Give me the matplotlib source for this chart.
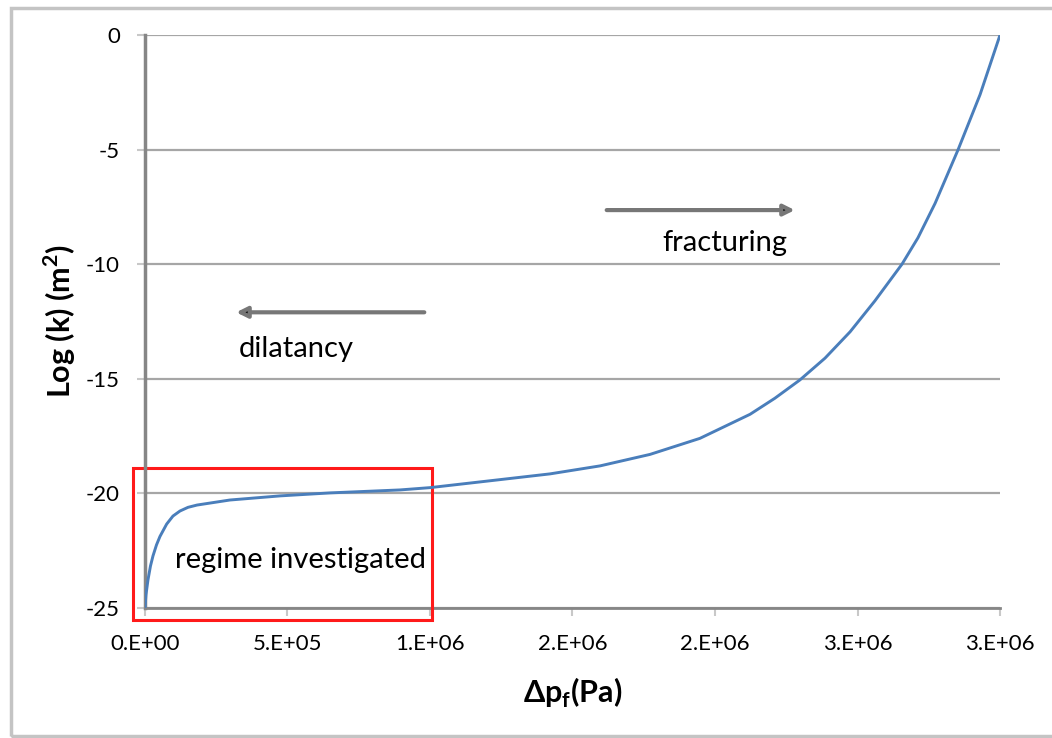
import matplotlib
matplotlib.use("Agg")
import matplotlib.pyplot as plt
from matplotlib.patches import Rectangle

plt.rcParams['font.family'] = ['Lato', 'DejaVu Sans']
plt.rcParams['mathtext.fontset'] = 'custom'
plt.rcParams['mathtext.rm'] = 'Lato'
plt.rcParams['mathtext.bf'] = 'Lato:bold'
plt.rcParams['axes.unicode_minus'] = False

# fluid overpressure (Pa) vs log permeability
dp = [0, 3.5e3, 1.05e4, 1.93e4, 2.81e4, 4.04e4, 5.26e4, 7.61e4, 9.82e4, 1.228e5,
      1.509e5, 1.825e5, 2.98e5, 4.74e5, 6.49e5, 8.95e5, 1.0e6, 1.246e6, 1.421e6,
      1.597e6, 1.772e6, 1.947e6, 2.123e6, 2.21e6, 2.298e6, 2.386e6, 2.474e6,
      2.561e6, 2.656e6, 2.712e6, 2.772e6, 2.853e6, 2.93e6, 3.0e6]
logk = [-25, -24.43, -23.78, -23.17, -22.73, -22.25, -21.88, -21.34, -20.99, -20.77,
        -20.61, -20.51, -20.29, -20.11, -19.98, -19.85, -19.75, -19.4, -19.15,
        -18.8, -18.3, -17.6, -16.55, -15.85, -15.05, -14.1, -12.95,
        -11.6, -10.0, -8.85, -7.35, -5.0, -2.6, 0]

xticks = [0, 5e5, 1e6, 1.5e6, 2e6, 2.5e6, 3e6]
xticklabels = ["0.E+00", "5.E+05", "1.E+06", "2.E+06", "2.E+06", "3.E+06", "3.E+06"]
yticks = [-25, -20, -15, -10, -5, 0]

fig = plt.figure(figsize=(10.52, 7.38), dpi=100)
ax = fig.add_axes([0.1378, 0.1762, 0.8128, 0.7764])

# outer frame
fig.patches.append(Rectangle((0.010, 0.003), 1.2, 0.986, transform=fig.transFigure,
                             fill=False, ec='#c4c4c4', lw=2.5))

ax.plot(dp, logk, color='#4a7ebb', lw=2.1, zorder=4)

ax.set_xlim(0, 3e6)
ax.set_ylim(-25, 0)
ax.set_xticks(xticks)
ax.set_xticklabels(xticklabels)
ax.set_yticks(yticks)

ax.grid(axis='y', color='#a6a6a6', lw=1.6)
ax.set_axisbelow(True)
for s in ('top', 'right'):
    ax.spines[s].set_visible(False)
ax.spines['left'].set_color('#868686')
ax.spines['left'].set_linewidth(2.5)
ax.spines['left'].set_zorder(3)
ax.spines['bottom'].set_color('#868686')
ax.spines['bottom'].set_linewidth(2.0)
ax.tick_params(axis='x', direction='out', length=6, width=1.5, color='#c8c8c8',
               pad=13, labelsize=16)
ax.tick_params(axis='y', direction='out', length=6, width=1.5, color='#c8c8c8',
               pad=12, labelsize=16)

ax.set_ylabel('Log (k) (m$^\\mathbf{2}$)', fontsize=22, fontweight='bold')
ax.set_xlabel('Δp$_\\mathbf{f}$(Pa)', fontsize=22, fontweight='bold')
ax.yaxis.set_label_coords(-0.078, 0.5)
ax.xaxis.set_label_coords(0.5, -0.119)

# studied window
ax.add_patch(Rectangle((-4.2e4, -25.52), 1.049e6, 6.62, fill=False, ec='#ff1a1a',
                       lw=2.2, clip_on=False, zorder=3))

arrow = dict(arrowstyle='-|>', color='#777777', fc='black', lw=3, mutation_scale=16,
             shrinkA=0, shrinkB=0)
ax.annotate('', xy=(2.28e6, -7.64), xytext=(1.62e6, -7.64), arrowprops=arrow)
ax.annotate('', xy=(3.2e5, -12.1), xytext=(9.8e5, -12.1), arrowprops=arrow)

ax.text(2.035e6, -9.07, 'fracturing', fontsize=21, ha='center', va='center')
ax.text(5.3e5, -13.7, 'dilatancy', fontsize=21, ha='center', va='center')
ax.text(5.44e5, -22.9, 'regime investigated', fontsize=21, ha='center', va='center')

fig.savefig('out.png', dpi=100)
